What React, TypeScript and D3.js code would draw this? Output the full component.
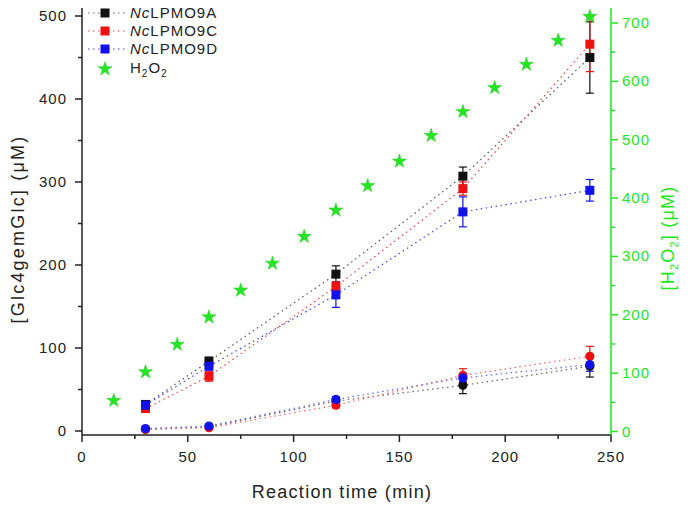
import React from "react";
import * as d3 from "d3";

const times = [30, 60, 120, 180, 240];
const sqA = [32, 84, 189, 307, 450];
const sqAErr = [3, 5, 10, 11, 43];
const sqC = [27, 66, 174, 292, 466];
const sqCErr = [3, 6, 6, 8, 33];
const sqD = [31, 78, 164, 264, 290];
const sqDErr = [3, 4, 15, 18, 13];
const ciA = [2, 5, 36, 55, 78];
const ciAErr = [1, 2, 3, 10, 13];
const ciC = [2, 4, 31, 67, 90];
const ciCErr = [1, 1, 3, 8, 12];
const ciD = [3, 6, 38, 64, 80];
const ciDErr = [1, 1, 3, 5, 8];
const h2o2Times = [15, 30, 45, 60, 75, 90, 105, 120, 135, 150, 165, 180, 195, 210, 225, 240];
const h2o2 = [53, 102, 149, 196, 242, 288, 334, 379, 421, 463, 507, 548, 589, 629, 670, 711];
const xTicks = [0, 50, 100, 150, 200, 250];
const yLeftTicks = [0, 100, 200, 300, 400, 500];
const yRightTicks = [0, 100, 200, 300, 400, 500, 600, 700];
const legendNames = ["LPMO9A", "LPMO9C", "LPMO9D"];

const GREEN = "#22e622";
const FONT = "Arial, 'Liberation Sans', sans-serif";

export default function App() {
  const W = 693, H = 505;
  const x = d3.scaleLinear().domain([0, 250]).range([82, 611]);
  const yL = d3.scaleLinear().domain([0, 500]).range([431, 16]);
  const yR = d3.scaleLinear().domain([0, 700]).range([431.5, 23]);
  const top = 8, bottom = 435;

  const line = d3.line<[number, number]>().x(d => x(d[0])).y(d => yL(d[1]));
  const star = d3.symbol().type(d3.symbolStar).size(60)() as string;

  const series = [
    { v: sqA, e: sqAErr, c: "#111111", lc: "#555555", shape: "sq" },
    { v: sqC, e: sqCErr, c: "#ee1111", lc: "#ee4444", shape: "sq" },
    { v: sqD, e: sqDErr, c: "#1111ee", lc: "#4444ee", shape: "sq" },
    { v: ciA, e: ciAErr, c: "#111111", lc: "#666666", shape: "ci" },
    { v: ciC, e: ciCErr, c: "#ee1111", lc: "#ee6666", shape: "ci" },
    { v: ciD, e: ciDErr, c: "#1111ee", lc: "#6666ee", shape: "ci" },
  ];
  const legendColors = ["#111111", "#ee1111", "#1111ee"];
  const legendLine = ["#666666", "#ee4444", "#4444ee"];

  const xMinor = d3.range(25, 250, 50);
  const yLMinor = d3.range(50, 500, 100);
  const yRMinor = d3.range(50, 720, 100);

  return (
    <svg width={W} height={H} style={{ position: "absolute", left: 0, top: 0, background: "#fff" }} fontFamily={FONT}>
      {/* series lines */}
      {series.map((s, i) => (
        <path key={"l" + i} d={line(times.map((t, j) => [t, s.v[j]]) as [number, number][]) || ""}
          fill="none" stroke={s.lc} strokeWidth={1.2} strokeDasharray="1.5 3.5" />
      ))}
      {/* error bars */}
      {series.map((s, i) => (
        <g key={"e" + i} stroke={s.c} strokeWidth={1.2}>
          {times.map((t, j) => (
            <g key={j}>
              <line x1={x(t)} x2={x(t)} y1={yL(s.v[j] - s.e[j])} y2={yL(s.v[j] + s.e[j])} />
              <line x1={x(t) - 4} x2={x(t) + 4} y1={yL(s.v[j] - s.e[j])} y2={yL(s.v[j] - s.e[j])} />
              <line x1={x(t) - 4} x2={x(t) + 4} y1={yL(s.v[j] + s.e[j])} y2={yL(s.v[j] + s.e[j])} />
            </g>
          ))}
        </g>
      ))}
      {/* markers */}
      {series.map((s, i) => (
        <g key={"m" + i} fill={s.c}>
          {times.map((t, j) =>
            s.shape === "sq" ? (
              <rect key={j} x={x(t) - 4.5} y={yL(s.v[j]) - 4.5} width={9} height={9} />
            ) : (
              <circle key={j} cx={x(t)} cy={yL(s.v[j])} r={4.6} />
            )
          )}
        </g>
      ))}
      {/* H2O2 stars */}
      <g fill={GREEN} stroke="#33cc33" strokeWidth={0.6}>
        {h2o2Times.map((t, j) => (
          <path key={j} d={star} transform={`translate(${x(t)},${yR(h2o2[j])})`} />
        ))}
      </g>

      {/* left axis */}
      <g stroke="#222" strokeWidth={1.5}>
        <line x1={82} x2={82} y1={top} y2={bottom} />
        {yLeftTicks.map(v => <line key={v} x1={75} x2={82} y1={yL(v)} y2={yL(v)} />)}
        {yLMinor.map(v => <line key={v} x1={78} x2={82} y1={yL(v)} y2={yL(v)} />)}
      </g>
      <g fontSize={15} fill="#222" textAnchor="end" letterSpacing={1}>
        {yLeftTicks.map(v => <text key={v} x={67} y={yL(v) + 5}>{v}</text>)}
      </g>
      {/* bottom axis */}
      <g stroke="#222" strokeWidth={1.5}>
        <line x1={82} x2={611} y1={bottom} y2={bottom} />
        {xTicks.map(v => <line key={v} x1={x(v)} x2={x(v)} y1={bottom} y2={bottom + 7} />)}
        {xMinor.map(v => <line key={v} x1={x(v)} x2={x(v)} y1={bottom} y2={bottom + 4} />)}
      </g>
      <g fontSize={15} fill="#222" textAnchor="middle" letterSpacing={1}>
        {xTicks.map(v => <text key={v} x={x(v)} y={462}>{v}</text>)}
      </g>
      <text x={342} y={498} fontSize={18} textAnchor="middle" fill="#222" letterSpacing={1.3}>Reaction time (min)</text>
      <text transform="translate(24,229) rotate(-90)" fontSize={18} textAnchor="middle" fill="#222" letterSpacing={2.2}>[Glc4gemGlc] (μM)</text>

      {/* right axis */}
      <g stroke={GREEN} strokeWidth={1.5}>
        <line x1={611} x2={611} y1={top} y2={bottom} />
        {yRightTicks.map(v => <line key={v} x1={611} x2={618} y1={yR(v)} y2={yR(v)} />)}
        {yRMinor.map(v => <line key={v} x1={611} x2={615} y1={yR(v)} y2={yR(v)} />)}
      </g>
      <g fontSize={15} fill={GREEN} textAnchor="start" letterSpacing={1}>
        {yRightTicks.map(v => <text key={v} x={622} y={yR(v) + 5}>{v}</text>)}
      </g>
      <text transform="translate(674,238) rotate(-90)" fontSize={18} textAnchor="middle" fill={GREEN} letterSpacing={1.2}>
        [H<tspan fontSize={11} dy={4}>2</tspan><tspan dy={-4}>O</tspan><tspan fontSize={11} dy={4}>2</tspan><tspan dy={-4}>] (μM)</tspan>
      </text>

      {/* legend */}
      {legendNames.map((n, i) => {
        const ly = 13 + i * 18;
        return (
          <g key={n}>
            <line x1={88} x2={127} y1={ly} y2={ly} stroke={legendLine[i]} strokeWidth={1.2} strokeDasharray="1.5 3.5" />
            <rect x={105 - 4.5} y={ly - 4.5} width={9} height={9} fill={legendColors[i]} />
            <text x={130} y={ly + 5} fontSize={15} fill="#222" letterSpacing={1}>
              <tspan fontStyle="italic">Nc</tspan>{n}
            </text>
          </g>
        );
      })}
      <path d={star} transform="translate(105,69)" fill={GREEN} stroke="#33cc33" strokeWidth={0.6} />
      <text x={130} y={73} fontSize={15} fill="#222" letterSpacing={1}>
        H<tspan fontSize={10} dy={4}>2</tspan><tspan dy={-4}>O</tspan><tspan fontSize={10} dy={4}>2</tspan>
      </text>
    </svg>
  );
}
